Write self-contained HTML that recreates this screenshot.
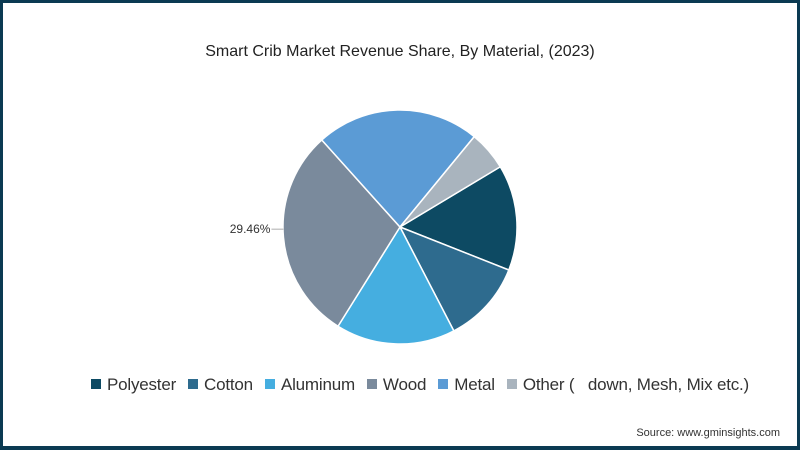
<!DOCTYPE html>
<html><head><meta charset="utf-8"><style>
body{margin:0;width:800px;height:450px;overflow:hidden;font-family:"Liberation Sans",sans-serif;background:#fff}
#frame{position:absolute;left:0;top:0;width:794px;height:443px;border:3px solid #0b3a52;border-bottom-width:4px;background:#fff}
#title{position:absolute;top:43px;left:0;width:800px;text-align:center;font-size:16px;color:#222}
#legend{position:absolute;top:375px;left:20px;width:800px;text-align:center;font-size:17px;color:#333;white-space:pre;letter-spacing:-0.2px}
.li{display:inline-block;margin:0 6px}
.sw{display:inline-block;width:10px;height:10px;margin-right:6px;vertical-align:1px}
#source{position:absolute;right:20px;top:427px;font-size:11px;color:#333}
</style></head><body>
<div id="frame"></div>
<div id="title">Smart Crib Market Revenue Share, By Material, (2023)</div>
<svg id="pie" width="800" height="450" style="position:absolute;left:0;top:0"></svg>
<div id="legend"></div>
<div id="source">Source: www.gminsights.com</div>
<script>
const categories=["Polyester","Cotton","Aluminum","Wood","Metal","Other (   down, Mesh, Mix etc.)"];
const values=[14.6,11.4,16.5,29.46,22.6,5.44];
const colors=["#0d4a63","#2e6b8e","#45aee0","#7a8a9c","#5b9bd5","#a9b4be"];
const cx=400,cy=227,r=117,startDeg=59;
const svg=document.getElementById('pie');
const NS="http://www.w3.org/2000/svg";
const total=values.reduce((a,b)=>a+b,0);
let a=startDeg;
function pt(deg,rad){const t=deg*Math.PI/180;return [cx+rad*Math.sin(t),cy-rad*Math.cos(t)];}
values.forEach((v,i)=>{
  const sweep=v/total*360;const p1=pt(a,r),p2=pt(a+sweep,r);
  const path=document.createElementNS(NS,'path');
  path.setAttribute('d',`M${cx},${cy}L${p1[0]},${p1[1]}A${r},${r} 0 ${sweep>180?1:0} 1 ${p2[0]},${p2[1]}Z`);
  path.setAttribute('fill',colors[i]);path.setAttribute('stroke','#fff');path.setAttribute('stroke-width','1.5');
  
  
  svg.appendChild(path);
  if(i===3){
    const mid=a+sweep/2;const e=pt(mid,r);
    const ly=e[1]-8;
    const ln=document.createElementNS(NS,'line');
    ln.setAttribute('x1',e[0]);ln.setAttribute('y1',ly);ln.setAttribute('x2',e[0]-12);ln.setAttribute('y2',ly);
    ln.setAttribute('stroke','#999');ln.setAttribute('stroke-width','0.8');
    
    
    svg.appendChild(ln);
    const tx=document.createElementNS(NS,'text');
    tx.setAttribute('x',e[0]-13);tx.setAttribute('y',ly+4);tx.setAttribute('text-anchor','end');
    tx.setAttribute('font-size','12');tx.setAttribute('fill','#333');tx.setAttribute('font-family','Liberation Sans, sans-serif');
    tx.textContent=v.toFixed(2)+'%';
    
    
    svg.appendChild(tx);
  }
  a+=sweep;
});
const leg=document.getElementById('legend');
categories.forEach((c,i)=>{
  const s=document.createElement('span');s.className='li';
  
  
  s.innerHTML=`<span class="sw" style="background:${colors[i]}"></span>`;
  s.appendChild(document.createTextNode(c));
  leg.appendChild(s);
});
</script>
</body></html>
